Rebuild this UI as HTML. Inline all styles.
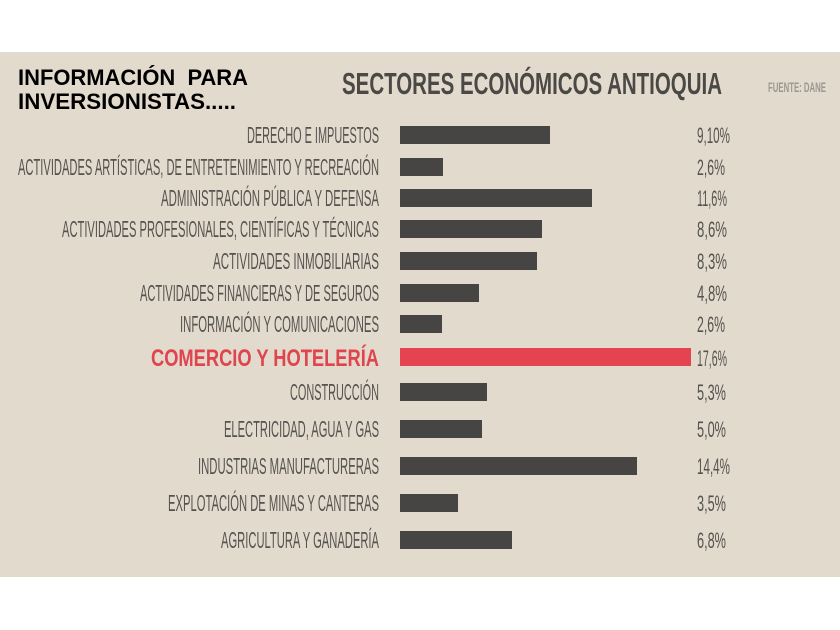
<!DOCTYPE html>
<html><head><meta charset="utf-8"><style>
html,body{margin:0;padding:0;background:#fff;}
svg{display:block;}
</style></head><body>
<svg width="840" height="630" xmlns="http://www.w3.org/2000/svg">
<rect x="0" y="0" width="840" height="630" fill="#ffffff"/>
<rect x="0" y="52" width="840" height="525" fill="#e3dace"/>
<g font-family="Liberation Sans, Arial, sans-serif" font-weight="bold" fill="#000" font-size="22">
<text x="18" y="85" textLength="230" lengthAdjust="spacingAndGlyphs">INFORMACIÓN&#160; PARA</text>
<text x="18" y="109" textLength="218" lengthAdjust="spacingAndGlyphs">INVERSIONISTAS.....</text>
</g>
<text x="342" y="94" font-family="Liberation Sans Narrow, Liberation Sans, sans-serif" font-weight="bold" font-size="31" fill="#4a4946" textLength="380" lengthAdjust="spacingAndGlyphs">SECTORES ECONÓMICOS ANTIOQUIA</text>
<text x="768" y="92" font-family="Liberation Sans Narrow, Liberation Sans, sans-serif" font-weight="bold" font-size="14" fill="#9c978f" textLength="58" lengthAdjust="spacingAndGlyphs">FUENTE: DANE</text>
<g font-family="Liberation Sans Narrow, Liberation Sans, sans-serif" font-size="23" fill="#55534f" text-anchor="end">
<text x="379" y="143" textLength="132" lengthAdjust="spacingAndGlyphs">DERECHO E IMPUESTOS</text>
<text x="379" y="175" textLength="361" lengthAdjust="spacingAndGlyphs">ACTIVIDADES ARTÍSTICAS, DE ENTRETENIMIENTO Y RECREACIÓN</text>
<text x="379" y="206" textLength="218" lengthAdjust="spacingAndGlyphs">ADMINISTRACIÓN PÚBLICA Y DEFENSA</text>
<text x="379" y="237" textLength="317" lengthAdjust="spacingAndGlyphs">ACTIVIDADES PROFESIONALES, CIENTÍFICAS Y TÉCNICAS</text>
<text x="379" y="269" textLength="166" lengthAdjust="spacingAndGlyphs">ACTIVIDADES INMOBILIARIAS</text>
<text x="379" y="301" textLength="239" lengthAdjust="spacingAndGlyphs">ACTIVIDADES FINANCIERAS Y DE SEGUROS</text>
<text x="379" y="332" textLength="199" lengthAdjust="spacingAndGlyphs">INFORMACIÓN Y COMUNICACIONES</text>
<text x="379" y="400" textLength="89" lengthAdjust="spacingAndGlyphs">CONSTRUCCIÓN</text>
<text x="379" y="437" textLength="155" lengthAdjust="spacingAndGlyphs">ELECTRICIDAD, AGUA Y GAS</text>
<text x="379" y="474" textLength="181" lengthAdjust="spacingAndGlyphs">INDUSTRIAS MANUFACTURERAS</text>
<text x="379" y="511" textLength="211" lengthAdjust="spacingAndGlyphs">EXPLOTACIÓN DE MINAS Y CANTERAS</text>
<text x="379" y="548" textLength="158" lengthAdjust="spacingAndGlyphs">AGRICULTURA Y GANADERÍA</text>
</g>
<text x="379" y="366" text-anchor="end" font-family="Liberation Sans Narrow, Liberation Sans, sans-serif" font-weight="bold" font-size="24" fill="#e0444e" textLength="228" lengthAdjust="spacingAndGlyphs">COMERCIO Y HOTELERÍA</text>
<g fill="#464543">
<rect x="400" y="126" width="150" height="18"/>
<rect x="400" y="158" width="43" height="18"/>
<rect x="400" y="189" width="192" height="18"/>
<rect x="400" y="220" width="142" height="18"/>
<rect x="400" y="252" width="137" height="18"/>
<rect x="400" y="284" width="79" height="18"/>
<rect x="400" y="315" width="42" height="18"/>
<rect x="400" y="383" width="87" height="18"/>
<rect x="400" y="420" width="82" height="18"/>
<rect x="400" y="457" width="237" height="18"/>
<rect x="400" y="494" width="58" height="18"/>
<rect x="400" y="531" width="112" height="18"/>
</g>
<rect x="400" y="348" width="291" height="18" fill="#e3444f"/>
<g font-family="Liberation Sans Narrow, Liberation Sans, sans-serif" font-size="22" fill="#55534f">
<text x="697" y="143" textLength="33" lengthAdjust="spacingAndGlyphs">9,10%</text>
<text x="697" y="175" textLength="28" lengthAdjust="spacingAndGlyphs">2,6%</text>
<text x="697" y="206" textLength="30" lengthAdjust="spacingAndGlyphs">11,6%</text>
<text x="697" y="237" textLength="30" lengthAdjust="spacingAndGlyphs">8,6%</text>
<text x="697" y="269" textLength="30" lengthAdjust="spacingAndGlyphs">8,3%</text>
<text x="697" y="301" textLength="30" lengthAdjust="spacingAndGlyphs">4,8%</text>
<text x="697" y="332" textLength="28" lengthAdjust="spacingAndGlyphs">2,6%</text>
<text x="697" y="366" textLength="30" lengthAdjust="spacingAndGlyphs">17,6%</text>
<text x="697" y="400" textLength="29" lengthAdjust="spacingAndGlyphs">5,3%</text>
<text x="697" y="437" textLength="29" lengthAdjust="spacingAndGlyphs">5,0%</text>
<text x="697" y="474" textLength="33" lengthAdjust="spacingAndGlyphs">14,4%</text>
<text x="697" y="511" textLength="29" lengthAdjust="spacingAndGlyphs">3,5%</text>
<text x="697" y="548" textLength="29" lengthAdjust="spacingAndGlyphs">6,8%</text>
</g>
</svg>
</body></html>
